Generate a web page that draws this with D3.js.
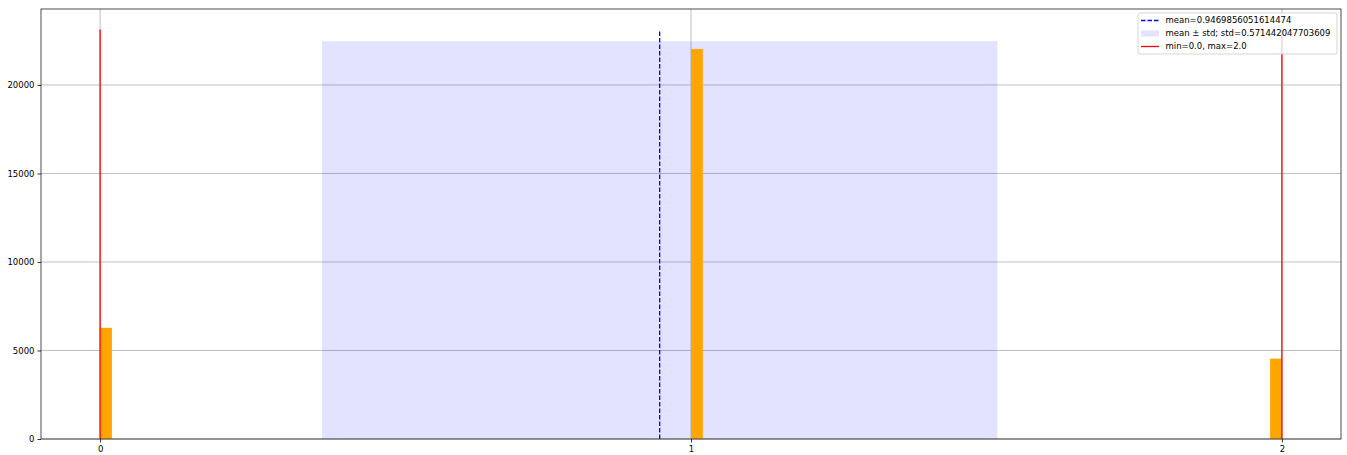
<!DOCTYPE html>
<html lang="en">
<head>
  <meta charset="UTF-8">
  <title>Histogram</title>
  <script src="https://d3js.org/d3.v7.min.js"></script>
  <style>
    body { margin: 0; background: #fff; font-family: "DejaVu Sans", sans-serif; }
    .tick text { font-size: 8.5px; fill: #000; font-family: "DejaVu Sans", sans-serif; }
  </style>
</head>
<body>
  <svg width="1347" height="455"></svg>
  <script>
    // histogram bins (start of bin, count), 100 bins on [0, 2]
    const binStarts = [0.0, 1.0, 1.98];
    const binCounts = [6281, 22034, 4540];
    const binWidth = 0.02;
    const meanVal = 0.9469856051614474;
    const stdVal = 0.571442047703609;
    const minVal = 0.0, maxVal = 2.0;
    const xTicks = [0, 1, 2];
    const yTicks = [0, 5000, 10000, 15000, 20000];
    const legendLabels = [
      "mean=0.9469856051614474",
      "mean \u00b1 std; std=0.571442047703609",
      "min=0.0, max=2.0"
    ];

    const svg = d3.select("svg");
    const margin = { top: 9, right: 6, bottom: 16, left: 41 };
    const width = +svg.attr("width") - margin.left - margin.right;
    const height = +svg.attr("height") - margin.top - margin.bottom;

    const maxCount = d3.max(binCounts);
    const lineTop = maxCount * 1.05;
    const spanTop = maxCount * 1.02;

    const x = d3.scaleLinear().domain([-0.1, 2.1]).range([0, width]);
    const y = d3.scaleLinear().domain([0, lineTop * 1.05]).range([height, 0]);

    const g = svg.append("g")
      .attr("transform", `translate(${margin.left},${margin.top})`);

    // grid
    g.append("g").selectAll("line").data(yTicks).enter().append("line")
      .attr("x1", 0).attr("x2", width)
      .attr("y1", d => y(d)).attr("y2", d => y(d))
      .attr("stroke", "#b0b0b0").attr("stroke-width", 0.8);
    g.append("g").selectAll("line").data(xTicks).enter().append("line")
      .attr("y1", 0).attr("y2", height)
      .attr("x1", d => x(d)).attr("x2", d => x(d))
      .attr("stroke", "#b0b0b0").attr("stroke-width", 0.8);

    // mean ± std span
    g.append("rect")
      .attr("x", x(meanVal - stdVal))
      .attr("width", x(meanVal + stdVal) - x(meanVal - stdVal))
      .attr("y", y(spanTop))
      .attr("height", y(0) - y(spanTop))
      .attr("fill", "blue").attr("fill-opacity", 0.11);

    // bars
    g.selectAll(".bar").data(binStarts).enter().append("rect")
      .attr("class", "bar")
      .attr("x", d => x(d))
      .attr("width", x(binWidth) - x(0))
      .attr("y", (d, i) => y(binCounts[i]))
      .attr("height", (d, i) => y(0) - y(binCounts[i]))
      .attr("fill", "orange");

    // mean line
    g.append("line")
      .attr("x1", x(meanVal)).attr("x2", x(meanVal))
      .attr("y1", y(0)).attr("y2", y(lineTop))
      .attr("stroke", "blue").attr("stroke-width", 1.3)
      .attr("stroke-dasharray", "4.5,2");

    // min / max lines
    g.selectAll(".mm").data([minVal, maxVal]).enter().append("line")
      .attr("x1", d => x(d)).attr("x2", d => x(d))
      .attr("y1", y(0)).attr("y2", y(lineTop))
      .attr("stroke", "red").attr("stroke-width", 1.3);

    // axes
    const xAxis = g.append("g")
      .attr("transform", `translate(0,${height})`)
      .call(d3.axisBottom(x).tickValues(xTicks).tickFormat(d3.format("d")).tickSize(3.5).tickPadding(3));
    const yAxis = g.append("g")
      .call(d3.axisLeft(y).tickValues(yTicks).tickFormat(d3.format("d")).tickSize(3.5).tickPadding(3));
    [xAxis, yAxis].forEach(a => {
      a.select(".domain").remove();
      a.selectAll(".tick line").attr("stroke", "#000").attr("stroke-width", 0.8);
    });

    // frame
    g.append("rect")
      .attr("width", width).attr("height", height)
      .attr("fill", "none").attr("stroke", "#222").attr("stroke-width", 0.8);

    // legend
    const lg = g.append("g").attr("transform", `translate(${1138 - margin.left},${13 - margin.top})`);
    lg.append("rect")
      .attr("width", 199).attr("height", 41).attr("rx", 2)
      .attr("fill", "#fff").attr("fill-opacity", 0.8)
      .attr("stroke", "#cccccc").attr("stroke-width", 0.8);
    const rows = lg.selectAll(".row").data(legendLabels).enter().append("g")
      .attr("transform", (d, i) => `translate(0,${7.5 + i * 13})`);
    rows.append("text")
      .attr("x", 27.5).attr("y", 0).attr("dy", "0.35em")
      .attr("font-size", 8.5).attr("font-family", "DejaVu Sans, sans-serif")
      .text(d => d);
    rows.filter((d, i) => i === 0).append("line")
      .attr("x1", 3).attr("x2", 21).attr("y1", 0).attr("y2", 0)
      .attr("stroke", "blue").attr("stroke-width", 1.3).attr("stroke-dasharray", "4.5,2");
    rows.filter((d, i) => i === 1).append("rect")
      .attr("x", 3).attr("y", -3).attr("width", 18).attr("height", 6)
      .attr("fill", "blue").attr("fill-opacity", 0.11);
    rows.filter((d, i) => i === 2).append("line")
      .attr("x1", 3).attr("x2", 21).attr("y1", 0).attr("y2", 0)
      .attr("stroke", "red").attr("stroke-width", 1.3);
  </script>
</body>
</html>
